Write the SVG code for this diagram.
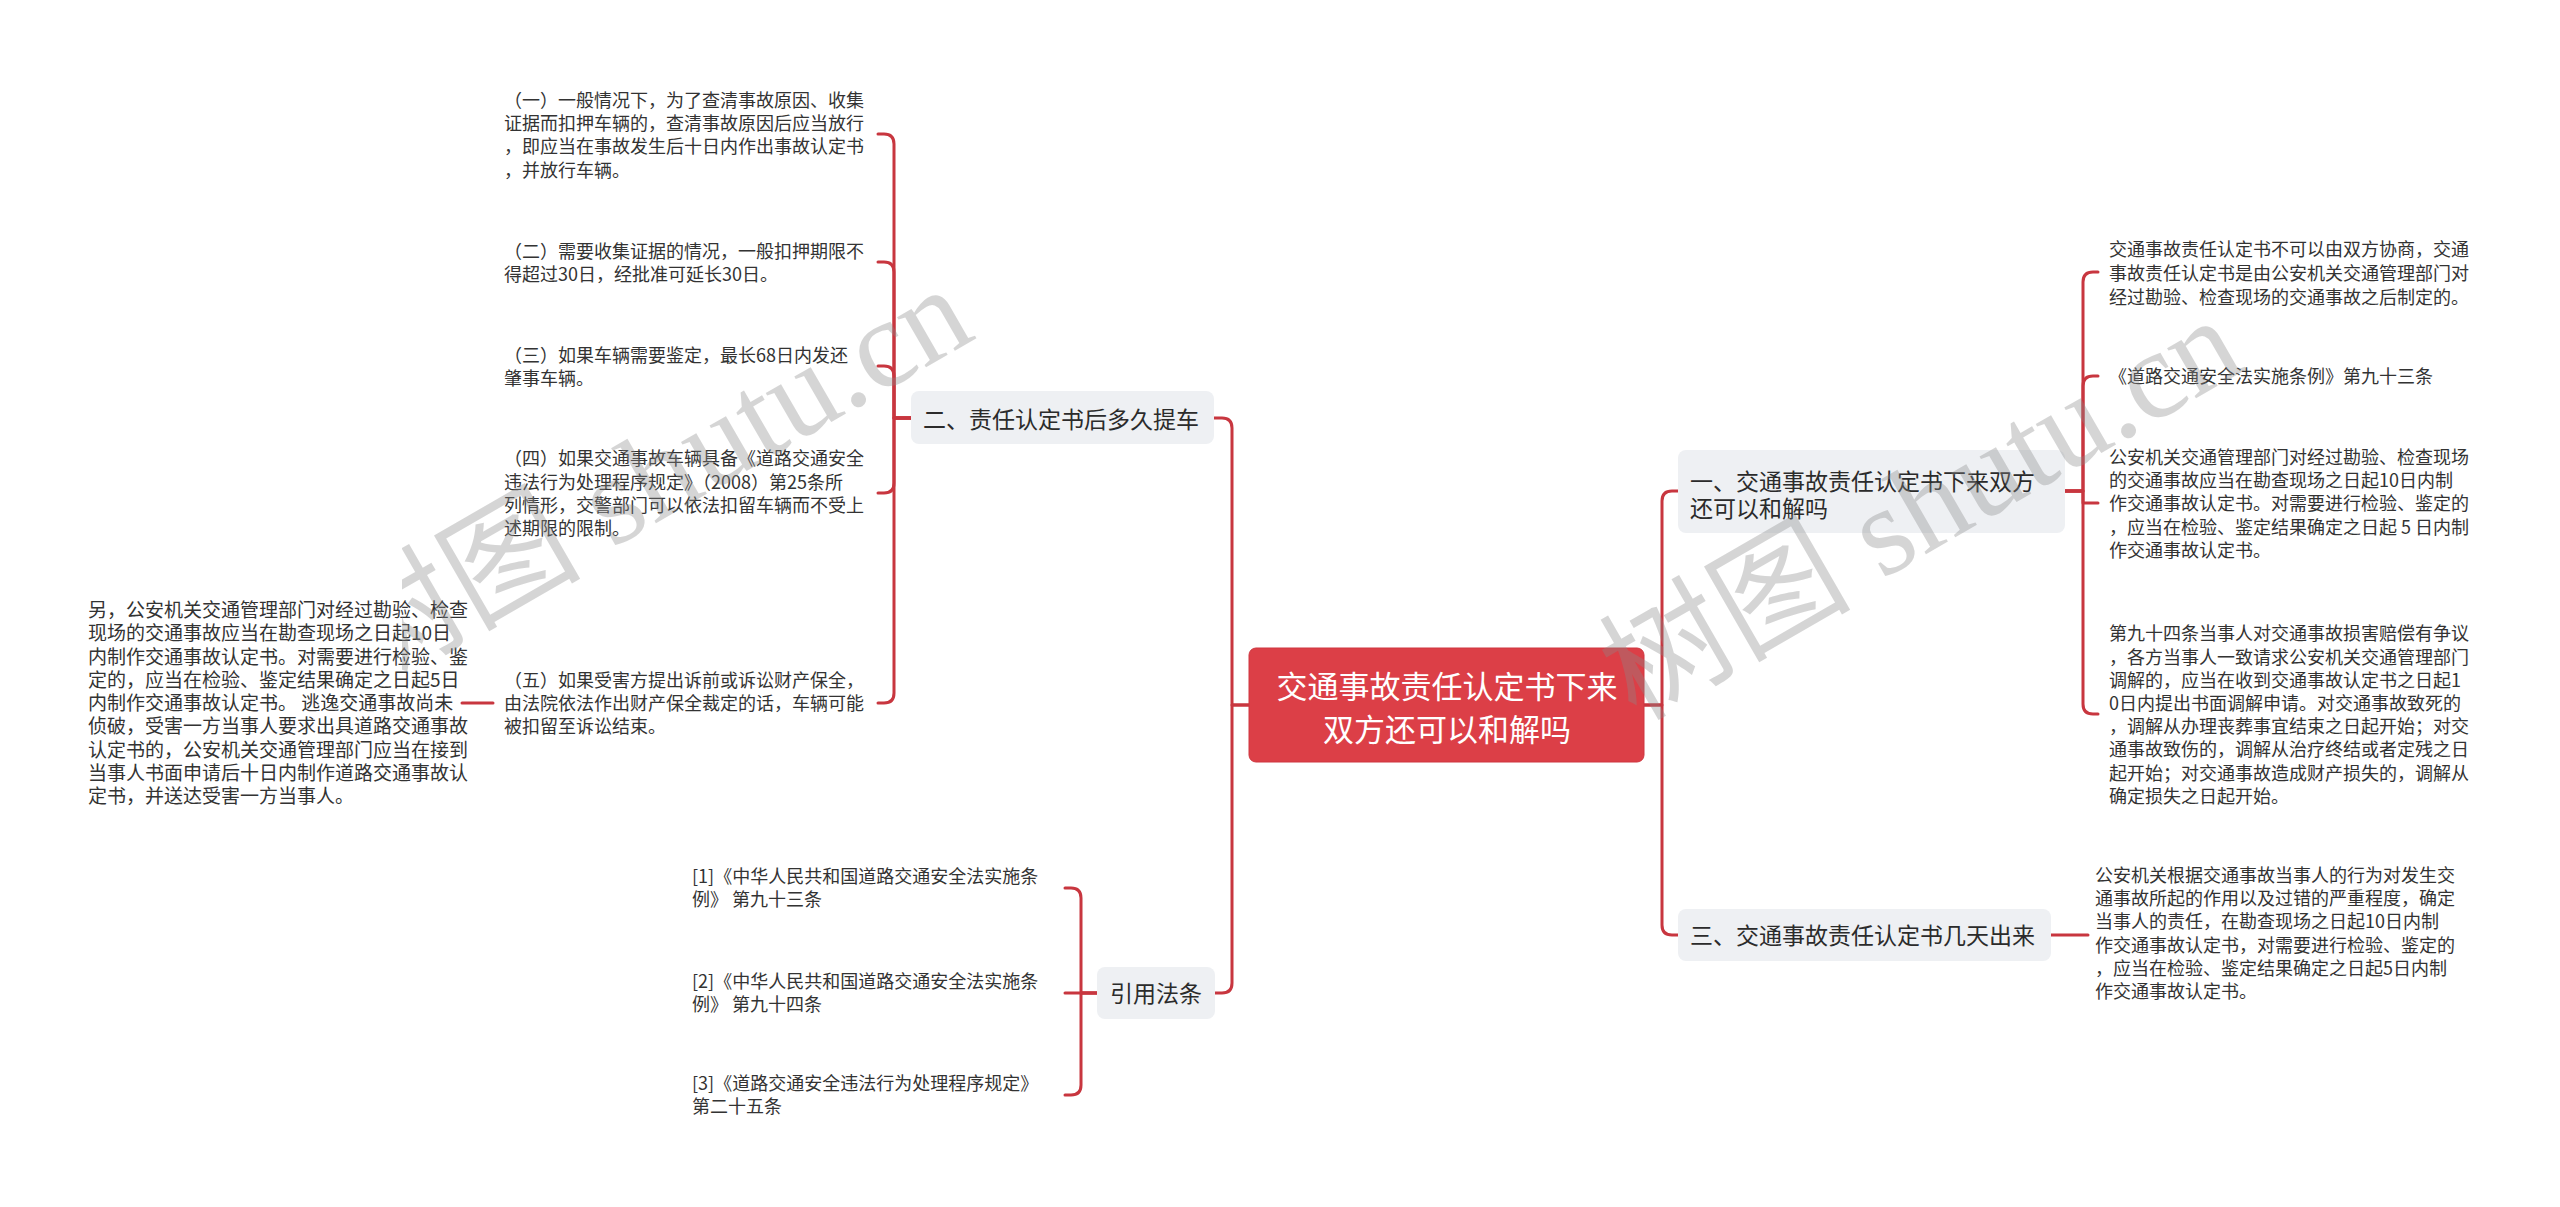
<svg xmlns="http://www.w3.org/2000/svg" width="2560" height="1207" viewBox="0 0 2560 1207">
<style>
text{font-family:"Noto Sans CJK SC","Microsoft YaHei",sans-serif;fill:#333}
.leaf{font-size:18px}
.leaf19{font-size:19px}
.branch{font-size:23px;fill:#2b2b2b}
.root{font-size:31px;fill:#fff}
.bbox{fill:#eef0f3}
.rbox{fill:#dc3f47;stroke:#cf3740;stroke-width:1}
.link{fill:none;stroke:#c8363f;stroke-width:3;stroke-linecap:round;stroke-linejoin:round}
.wm{font-family:"Liberation Serif","Noto Sans CJK SC",serif;font-size:126px;fill:#8a8a8a;opacity:0.35}
</style>
<defs>
  <clipPath id="wmclip"><rect x="402" y="0" width="2158" height="1207"/></clipPath>
</defs>
<rect width="2560" height="1207" fill="#fff"/>

<g id="connectors">
  <path class="link" d="M1249 705 H1232 V428 Q1232 418 1222 418 H1214"/>
  <path class="link" d="M1249 705 H1232 V983 Q1232 993 1222 993 H1215"/>
  <path class="link" d="M1644 705 H1662 V501 Q1662 491 1672 491 H1678"/>
  <path class="link" d="M1644 705 H1662 V925 Q1662 935 1672 935 H1678"/>
  <path class="link" d="M911 418 H894 V144 Q894 134 884 134 H878"/>
  <path class="link" d="M911 418 H894 V272 Q894 262 884 262 H878"/>
  <path class="link" d="M911 418 H894 V376 Q894 366 884 366 H878"/>
  <path class="link" d="M911 418 H894 V483 Q894 493 884 493 H878"/>
  <path class="link" d="M911 418 H894 V693 Q894 703 884 703 H878"/>
  <path class="link" d="M493 703 H462"/>
  <path class="link" d="M1097 993 H1081 V898 Q1081 888 1071 888 H1065"/>
  <path class="link" d="M1097 993 H1065"/>
  <path class="link" d="M1097 993 H1081 V1085 Q1081 1095 1071 1095 H1065"/>
  <path class="link" d="M2065 491 H2083 V282 Q2083 272 2093 272 H2098"/>
  <path class="link" d="M2065 491 H2083 V386 Q2083 376 2093 376 H2098"/>
  <path class="link" d="M2065 491 H2083 V503 H2098"/>
  <path class="link" d="M2065 491 H2083 V704 Q2083 714 2093 714 H2098"/>
  <path class="link" d="M2051 935 H2088"/>
</g>

<g id="root">
  <rect class="rbox" x="1249" y="648" width="395" height="114" rx="7"/>
  <text class="root" text-anchor="middle"><tspan x="1447" y="698">交通事故责任认定书下来</tspan><tspan x="1447" y="741">双方还可以和解吗</tspan></text>
</g>

<g id="b2">
  <rect class="bbox" x="911" y="391" width="303" height="53" rx="8"/>
  <text class="branch" x="923" y="428">二、责任认定书后多久提车</text>
</g>
<g id="b2c1">
  <text class="leaf"><tspan x="504" y="107">（一）一般情况下，为了查清事故原因、收集</tspan><tspan x="504" y="130">证据而扣押车辆的，查清事故原因后应当放行</tspan><tspan x="504" y="153">，即应当在事故发生后十日内作出事故认定书</tspan><tspan x="504" y="177">，并放行车辆。</tspan></text>
</g>
<g id="b2c2">
  <text class="leaf"><tspan x="504" y="258">（二）需要收集证据的情况，一般扣押期限不</tspan><tspan x="504" y="281">得超过30日，经批准可延长30日。</tspan></text>
</g>
<g id="b2c3">
  <text class="leaf"><tspan x="504" y="362">（三）如果车辆需要鉴定，最长68日内发还</tspan><tspan x="504" y="385">肇事车辆。</tspan></text>
</g>
<g id="b2c4">
  <text class="leaf"><tspan x="504" y="465">（四）如果交通事故车辆具备《道路交通安全</tspan><tspan x="504" y="489">违法行为处理程序规定》（2008）第25条所</tspan><tspan x="504" y="512">列情形，交警部门可以依法扣留车辆而不受上</tspan><tspan x="504" y="535">述期限的限制。</tspan></text>
</g>
<g id="b2c5">
  <text class="leaf"><tspan x="504" y="687">（五）如果受害方提出诉前或诉讼财产保全，</tspan><tspan x="504" y="710">由法院依法作出财产保全裁定的话，车辆可能</tspan><tspan x="504" y="733">被扣留至诉讼结束。</tspan></text>
</g>
<g id="b2c5c1">
  <text class="leaf19"><tspan x="88" y="617">另，公安机关交通管理部门对经过勘验、检查</tspan><tspan x="88" y="640">现场的交通事故应当在勘查现场之日起10日</tspan><tspan x="88" y="664">内制作交通事故认定书。对需要进行检验、鉴</tspan><tspan x="88" y="687">定的，应当在检验、鉴定结果确定之日起5日</tspan><tspan x="88" y="710">内制作交通事故认定书。 逃逸交通事故尚未</tspan><tspan x="88" y="733">侦破，受害一方当事人要求出具道路交通事故</tspan><tspan x="88" y="757">认定书的，公安机关交通管理部门应当在接到</tspan><tspan x="88" y="780">当事人书面申请后十日内制作道路交通事故认</tspan><tspan x="88" y="803">定书，并送达受害一方当事人。</tspan></text>
</g>

<g id="b4">
  <rect class="bbox" x="1097" y="967" width="118" height="52" rx="8"/>
  <text class="branch" x="1110" y="1002">引用法条</text>
</g>
<g id="b4c1">
  <text class="leaf"><tspan x="692" y="883">[1]《中华人民共和国道路交通安全法实施条</tspan><tspan x="692" y="906">例》 第九十三条</tspan></text>
</g>
<g id="b4c2">
  <text class="leaf"><tspan x="692" y="988">[2]《中华人民共和国道路交通安全法实施条</tspan><tspan x="692" y="1011">例》 第九十四条</tspan></text>
</g>
<g id="b4c3">
  <text class="leaf"><tspan x="692" y="1090">[3]《道路交通安全违法行为处理程序规定》</tspan><tspan x="692" y="1113">第二十五条</tspan></text>
</g>

<g id="b1">
  <rect class="bbox" x="1678" y="450" width="387" height="83" rx="8"/>
  <text class="branch"><tspan x="1690" y="490">一、交通事故责任认定书下来双方</tspan><tspan x="1690" y="517">还可以和解吗</tspan></text>
</g>
<g id="b1c1">
  <text class="leaf"><tspan x="2109" y="256">交通事故责任认定书不可以由双方协商，交通</tspan><tspan x="2109" y="280">事故责任认定书是由公安机关交通管理部门对</tspan><tspan x="2109" y="304">经过勘验、检查现场的交通事故之后制定的。</tspan></text>
</g>
<g id="b1c2">
  <text class="leaf" x="2109" y="383">《道路交通安全法实施条例》第九十三条</text>
</g>
<g id="b1c3">
  <text class="leaf"><tspan x="2109" y="464">公安机关交通管理部门对经过勘验、检查现场</tspan><tspan x="2109" y="487">的交通事故应当在勘查现场之日起10日内制</tspan><tspan x="2109" y="510">作交通事故认定书。对需要进行检验、鉴定的</tspan><tspan x="2109" y="534">，应当在检验、鉴定结果确定之日起 5 日内制</tspan><tspan x="2109" y="557">作交通事故认定书。</tspan></text>
</g>
<g id="b1c4">
  <text class="leaf"><tspan x="2109" y="640">第九十四条当事人对交通事故损害赔偿有争议</tspan><tspan x="2109" y="664">，各方当事人一致请求公安机关交通管理部门</tspan><tspan x="2109" y="687">调解的，应当在收到交通事故认定书之日起1</tspan><tspan x="2109" y="710">0日内提出书面调解申请。对交通事故致死的</tspan><tspan x="2109" y="733">，调解从办理丧葬事宜结束之日起开始；对交</tspan><tspan x="2109" y="756">通事故致伤的，调解从治疗终结或者定残之日</tspan><tspan x="2109" y="780">起开始；对交通事故造成财产损失的，调解从</tspan><tspan x="2109" y="803">确定损失之日起开始。</tspan></text>
</g>

<g id="b3">
  <rect class="bbox" x="1678" y="909" width="373" height="52" rx="8"/>
  <text class="branch" x="1690" y="944">三、交通事故责任认定书几天出来</text>
</g>
<g id="b3c1">
  <text class="leaf"><tspan x="2095" y="882">公安机关根据交通事故当事人的行为对发生交</tspan><tspan x="2095" y="905">通事故所起的作用以及过错的严重程度，确定</tspan><tspan x="2095" y="928">当事人的责任，在勘查现场之日起10日内制</tspan><tspan x="2095" y="952">作交通事故认定书，对需要进行检验、鉴定的</tspan><tspan x="2095" y="975">，应当在检验、鉴定结果确定之日起5日内制</tspan><tspan x="2095" y="998">作交通事故认定书。</tspan></text>
</g>

<g id="watermarks">
  <g clip-path="url(#wmclip)">
    <text class="wm" text-anchor="middle" transform="translate(672 514) rotate(-30)">树图 shutu.cn</text>
  </g>
  <text class="wm" text-anchor="middle" transform="translate(1942 545) rotate(-30)">树图 shutu.cn</text>
</g>
</svg>
